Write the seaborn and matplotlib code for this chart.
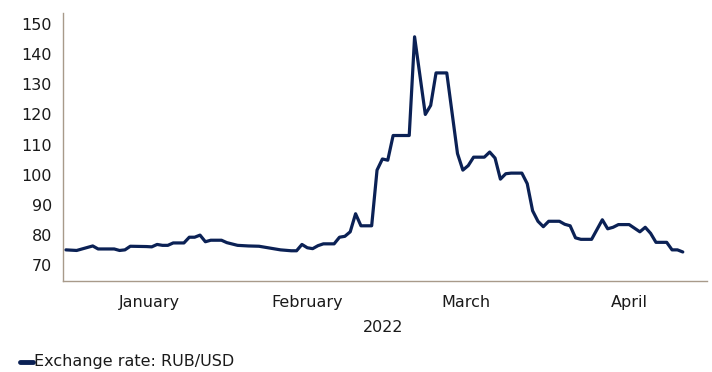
import matplotlib
matplotlib.use("Agg")
import matplotlib.pyplot as plt
import matplotlib.dates as mdates
import pandas as pd
import seaborn as sns

# RUB/USD official rate, 2022
dates = [
    "2022-01-01", "2022-01-03", "2022-01-06", "2022-01-07", "2022-01-10", "2022-01-11",
    "2022-01-12", "2022-01-13", "2022-01-16", "2022-01-17", "2022-01-18", "2022-01-19",
    "2022-01-20", "2022-01-21", "2022-01-23", "2022-01-24", "2022-01-25", "2022-01-26",
    "2022-01-27", "2022-01-28", "2022-01-30", "2022-01-31", "2022-02-02", "2022-02-04",
    "2022-02-06", "2022-02-08", "2022-02-10", "2022-02-12", "2022-02-13", "2022-02-14",
    "2022-02-15", "2022-02-16", "2022-02-17", "2022-02-18", "2022-02-20", "2022-02-21",
    "2022-02-22", "2022-02-23", "2022-02-24", "2022-02-25", "2022-02-27", "2022-02-28",
    "2022-03-01", "2022-03-02", "2022-03-03", "2022-03-06", "2022-03-07", "2022-03-09",
    "2022-03-10", "2022-03-11", "2022-03-13", "2022-03-15", "2022-03-16", "2022-03-17",
    "2022-03-18", "2022-03-20", "2022-03-21", "2022-03-22", "2022-03-23", "2022-03-24",
    "2022-03-25", "2022-03-27", "2022-03-28", "2022-03-29", "2022-03-30", "2022-03-31",
    "2022-04-01", "2022-04-03", "2022-04-04", "2022-04-05", "2022-04-06", "2022-04-07",
    "2022-04-09", "2022-04-11", "2022-04-12", "2022-04-13", "2022-04-14", "2022-04-16",
    "2022-04-18", "2022-04-19", "2022-04-20", "2022-04-21", "2022-04-23", "2022-04-24",
    "2022-04-25", "2022-04-26",
]
rates = [
    75.0, 74.8, 76.3, 75.3, 75.3, 74.8,
    75.0, 76.2, 76.1, 76.0, 76.8, 76.5,
    76.5, 77.3, 77.3, 79.2, 79.2, 79.9,
    77.7, 78.2, 78.2, 77.4, 76.5, 76.3,
    76.2, 75.6, 75.0, 74.7, 74.7, 76.8,
    75.7, 75.4, 76.4, 77.0, 77.0, 79.2,
    79.5, 81.0, 87.0, 83.0, 83.0, 101.5,
    105.2, 104.8, 113.0, 113.0, 145.8, 120.0,
    123.0, 133.8, 133.8, 107.0, 101.5, 103.0,
    105.8, 105.8, 107.5, 105.5, 98.5, 100.3,
    100.5, 100.5, 97.0, 88.0, 84.5, 82.7,
    84.5, 84.5, 83.5, 83.0, 79.0, 78.5,
    78.5, 85.0, 82.0, 82.5, 83.4, 83.4,
    81.0, 82.5, 80.5, 77.5, 77.5, 75.0,
    75.0, 74.3,
]
month_labels = ["January", "February", "March", "April"]
year_label = "2022"
series_name = "Exchange rate: RUB/USD"
y_ticks = [70, 80, 90, 100, 110, 120, 130, 140, 150]

df = pd.DataFrame({"date": pd.to_datetime(dates), "rate": rates})

sns.set_theme(style="white")
plt.rcParams["font.family"] = ["DejaVu Sans"]

LINE = "#0b2155"
SPINE = "#a89a8a"
TEXT = "#1a1a1a"

fig = plt.figure(figsize=(7.12, 3.72), dpi=100)
ax = fig.add_axes([0.0885, 0.245, 0.905, 0.72])

sns.lineplot(data=df, x="date", y="rate", ax=ax, color=LINE, linewidth=2.3,
             solid_capstyle="round", solid_joinstyle="round", legend=False)

ax.set_xlim(pd.Timestamp("2021-12-31 11:00"), pd.Timestamp("2022-04-30 14:00"))
ax.set_ylim(64.7, 153.7)
ax.set_yticks(y_ticks)
ax.set_yticklabels([str(v) for v in y_ticks])

# month boundaries as tick marks, month names centred between them
bounds = pd.to_datetime(["2022-01-01", "2022-02-01", "2022-03-01", "2022-04-01", "2022-05-01"])
mids = [bounds[i] + (bounds[i + 1] - bounds[i]) / 2 for i in range(4)]
ax.set_xticks(mdates.date2num(bounds[1:4]))
ax.set_xticklabels([])
ax.set_xticks(mdates.date2num(mids), minor=True)
ax.set_xticklabels(month_labels, minor=True)
ax.tick_params(axis="x", which="major", length=4, width=0.8, color=SPINE, direction="out")
ax.tick_params(axis="x", which="minor", length=0, pad=10, labelsize=11.5, labelcolor=TEXT)
ax.tick_params(axis="y", which="major", length=4, width=0.8, color=SPINE, direction="out",
               labelsize=11.5, labelcolor=TEXT, pad=4)

ax.set_xlabel("")
ax.set_ylabel("")
for side in ["top", "right"]:
    ax.spines[side].set_visible(False)
for side in ["left", "bottom"]:
    ax.spines[side].set_color(SPINE)
    ax.spines[side].set_linewidth(1.0)

fig.text(0.538, 0.12, year_label, ha="center", va="center", fontsize=11.5, color=TEXT)

# legend entry at the bottom left
fig.lines.append(plt.Line2D([0.028, 0.046], [0.027, 0.027], transform=fig.transFigure,
                            color=LINE, linewidth=3.5))
fig.text(0.048, 0.027, series_name, ha="left", va="center", fontsize=11.5, color=TEXT)

fig.savefig("out.png", dpi=100)
